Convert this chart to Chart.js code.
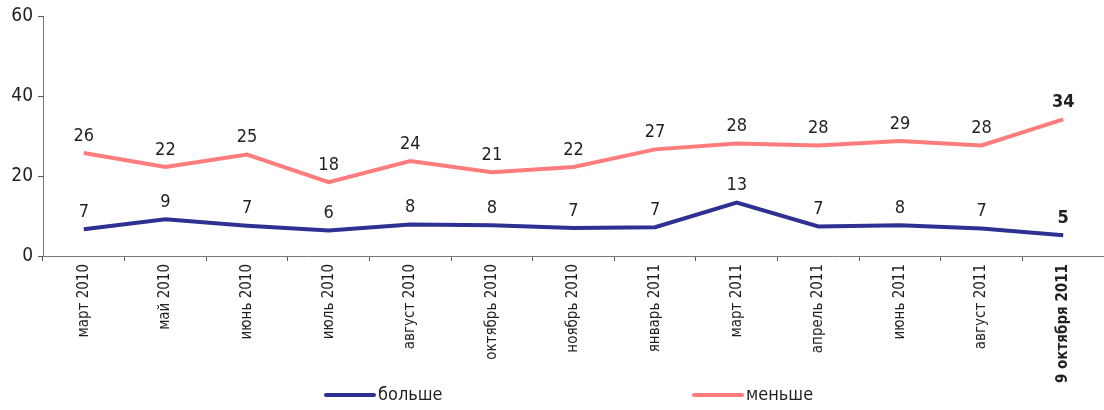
<!DOCTYPE html>
<html>
<head>
<meta charset="utf-8">
<script src="https://cdn.jsdelivr.net/npm/chart.js@4.4.0/dist/chart.umd.min.js"></script>
<style>
html,body{margin:0;padding:0;background:#fff;}
#wrap{position:relative;width:1104px;height:410px;}
</style>
</head>
<body>
<div id="wrap"><canvas id="c" width="1104" height="410"></canvas></div>
<script>
const categories = ['март 2010','май 2010','июнь 2010','июль 2010','август 2010','октябрь 2010','ноябрь 2010','январь 2011','март 2011','апрель 2011','июнь 2011','август 2011','9 октября 2011'];
const moreValues = [6.7, 9.2, 7.6, 6.4, 7.9, 7.7, 7.0, 7.2, 13.4, 7.4, 7.7, 6.9, 5.2];
const lessValues = [25.8, 22.3, 25.4, 18.5, 23.8, 21.0, 22.3, 26.7, 28.2, 27.7, 28.8, 27.7, 34.2];
const moreLabels = [7, 9, 7, 6, 8, 8, 7, 7, 13, 7, 8, 7, 5];
const lessLabels = [26, 22, 25, 18, 24, 21, 22, 27, 28, 28, 29, 28, 34];
const yTicks = [0, 20, 40, 60];
const seriesNames = ['больше', 'меньше'];

const FONT = '"DejaVu Sans Condensed", "Liberation Sans Narrow", sans-serif';
const TXT = '#231f20';
const BLUE = '#2e3192';
const PINK = '#ff7c7c';
const last = categories.length - 1;

const valueLabels = {
  id: 'valueLabels',
  afterDatasetsDraw(chart) {
    const ctx = chart.ctx;
    chart.data.datasets.forEach((ds, di) => {
      const meta = chart.getDatasetMeta(di);
      meta.data.forEach((pt, i) => {
        ctx.save();
        ctx.fillStyle = TXT;
        ctx.font = (i === last ? 'bold ' : '') + '18px ' + FONT;
        ctx.textAlign = 'center';
        ctx.textBaseline = 'middle';
        ctx.fillText(String(ds.valueLabels[i]), pt.x, pt.y - 17);
        ctx.restore();
      });
    });
  }
};

const bottomLegend = {
  id: 'bottomLegend',
  afterDraw(chart) {
    const ctx = chart.ctx;
    const starts = [325, 693];
    const y = 395;
    chart.data.datasets.forEach((ds, i) => {
      const x = starts[i];
      ctx.save();
      ctx.strokeStyle = ds.borderColor;
      ctx.lineWidth = 4;
      ctx.lineCap = 'round';
      ctx.beginPath();
      ctx.moveTo(x + 1, y);
      ctx.lineTo(x + 49, y);
      ctx.stroke();
      ctx.fillStyle = TXT;
      ctx.font = '18px ' + FONT;
      ctx.textAlign = 'left';
      ctx.textBaseline = 'middle';
      ctx.fillText(ds.label, x + 53, y);
      ctx.restore();
    });
  }
};

new Chart(document.getElementById('c'), {
  type: 'line',
  data: {
    labels: categories,
    datasets: [
      { label: seriesNames[0], data: moreValues, valueLabels: moreLabels, borderColor: BLUE, borderWidth: 4, pointRadius: 0, tension: 0, fill: false },
      { label: seriesNames[1], data: lessValues, valueLabels: lessLabels, borderColor: PINK, borderWidth: 4, pointRadius: 0, tension: 0, fill: false }
    ]
  },
  options: {
    responsive: false,
    animation: false,
    events: [],
    layout: { padding: { top: 14, right: 0, bottom: 0, left: 0 } },
    plugins: { legend: { display: false }, tooltip: { enabled: false } },
    scales: {
      x: {
        offset: true,
        grid: { offset: true, drawOnChartArea: false, drawTicks: true, tickLength: 5, color: '#555' },
        border: { color: '#777', width: 1 },
        ticks: {
          autoSkip: false,
          minRotation: 90,
          maxRotation: 90,
          padding: 3,
          color: TXT,
          font: (c) => ({ family: FONT, size: 15, weight: c.index === last ? 'bold' : 'normal' })
        },
        afterFit(s) { s.height = 154; }
      },
      y: {
        min: 0,
        max: 60,
        afterBuildTicks(s) { s.ticks = yTicks.map(v => ({ value: v })); },
        grid: { drawOnChartArea: false, drawTicks: true, tickLength: 5, color: '#555' },
        border: { color: '#777', width: 1 },
        ticks: { color: TXT, padding: 5, font: { family: FONT, size: 19 } },
        afterFit(s) { s.width = 43; }
      }
    }
  },
  plugins: [valueLabels, bottomLegend]
});
</script>
</body>
</html>
